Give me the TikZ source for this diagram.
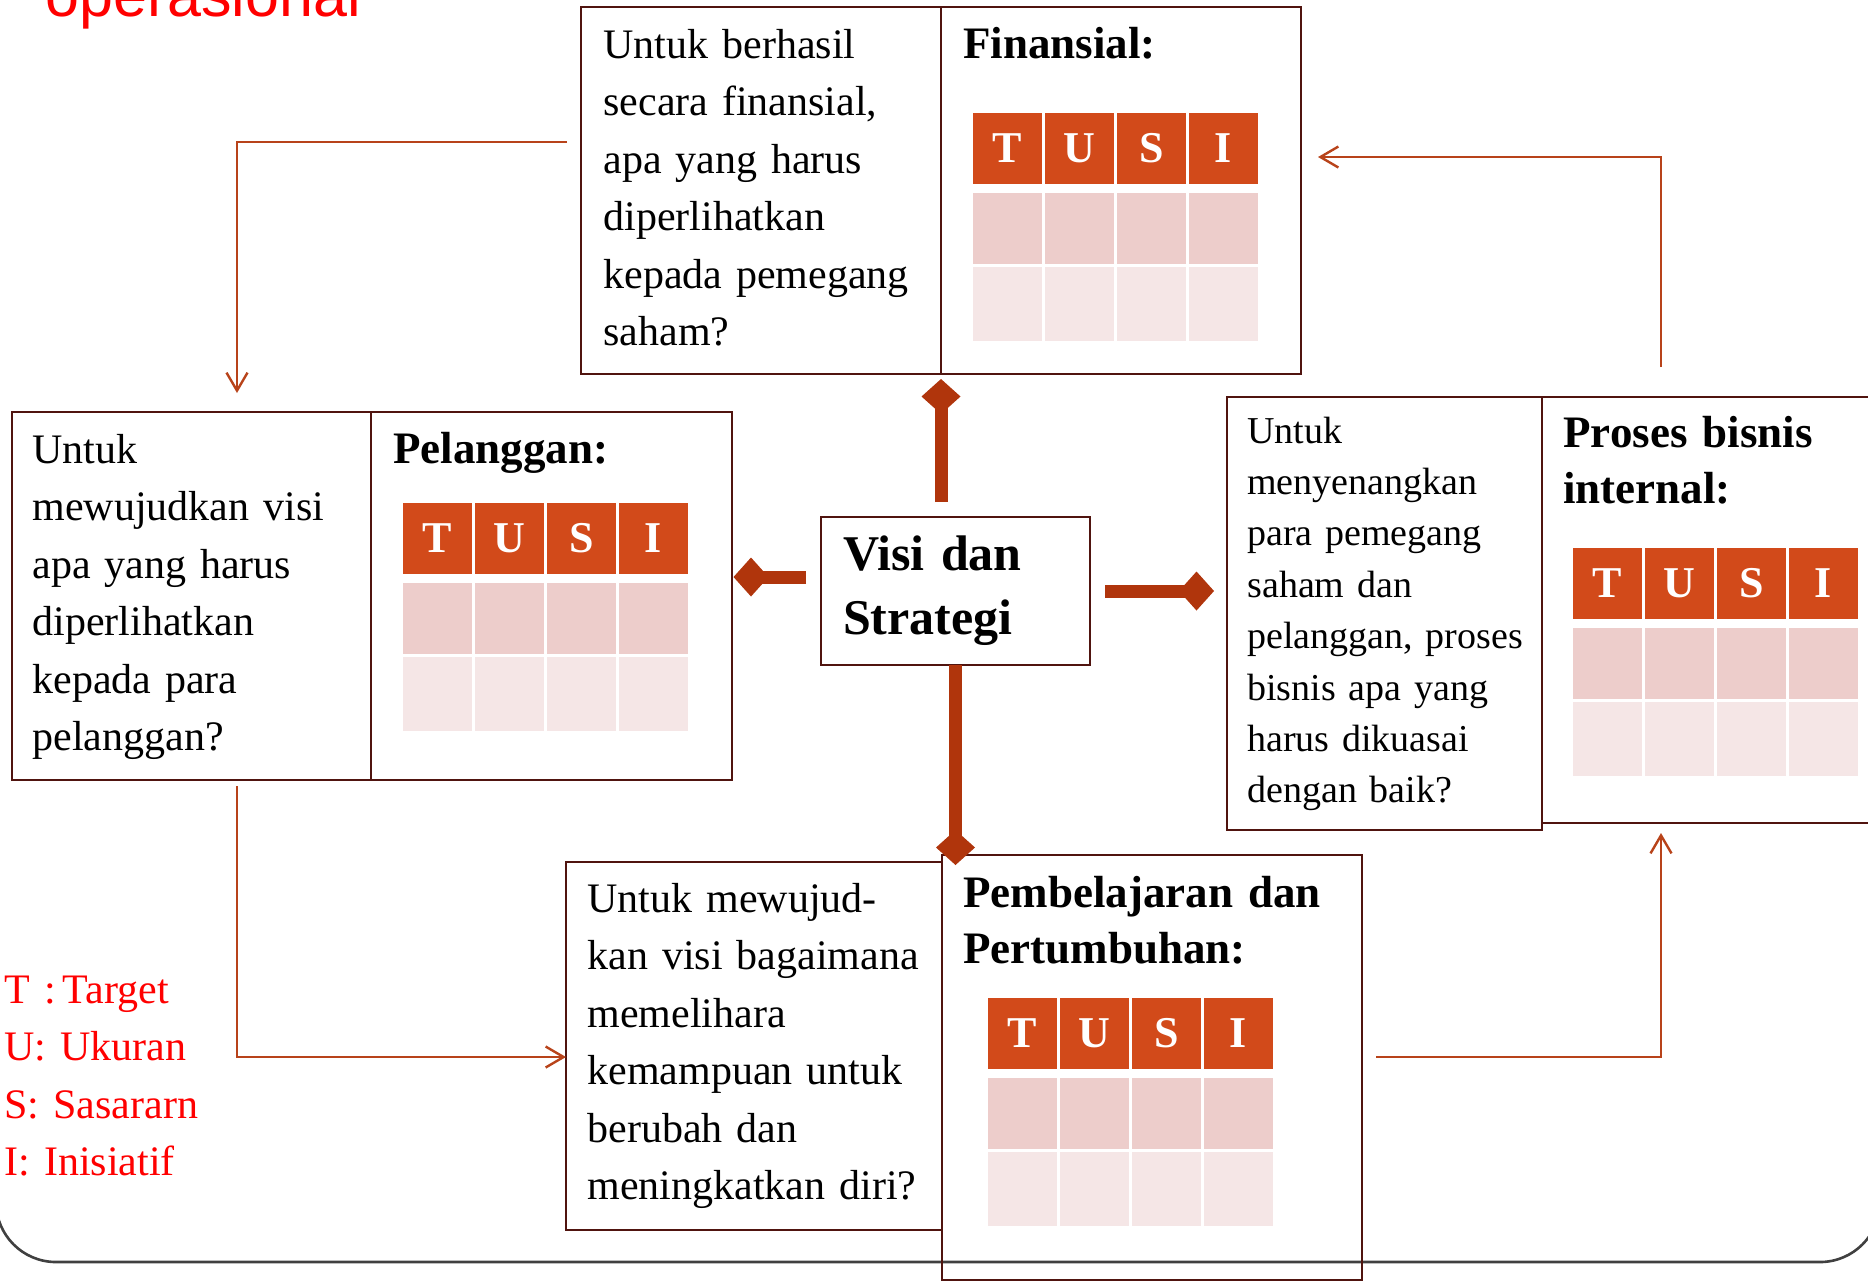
\documentclass[tikz,border=0pt]{standalone}
\usepackage{fontspec}
\setmainfont{Liberation Serif}
\newfontfamily\arialfont{Liberation Sans}
\usetikzlibrary{arrows.meta}

\definecolor{batas}{HTML}{50140F}
\definecolor{merahbata}{HTML}{B0350C}
\definecolor{jingga}{HTML}{B8431A}
\definecolor{oranye}{HTML}{D24A1A}
\definecolor{pinktua}{HTML}{EDCDCB}
\definecolor{pinkmuda}{HTML}{F5E6E6}

\tikzset{
  kotak/.style={draw=batas, line width=1pt, inner sep=0pt, outer sep=0pt, anchor=north west},
  tanya/.style={text width=185pt, align=left, inner sep=0pt, anchor=base west, font=\fontsize{21}{28.75}\selectfont},
  judul/.style={text width=200pt, align=left, inner sep=0pt, anchor=base west, font=\bfseries\fontsize{22.5}{28}\selectfont},
  kepala/.style={fill=oranye, text=white, font=\bfseries\fontsize{22}{26}\selectfont, minimum width=34.5pt, minimum height=35.5pt, inner sep=0pt, outer sep=0pt, anchor=north west},
  baris1/.style={fill=pinktua, minimum width=34.5pt, minimum height=35.5pt, inner sep=0pt, outer sep=0pt, anchor=north west},
  baris2/.style={fill=pinkmuda, minimum width=34.5pt, minimum height=37pt, inner sep=0pt, outer sep=0pt, anchor=north west},
  penghubung/.style={draw=merahbata, line width=6.5pt, -{Diamond[length=17.5pt, width=19.5pt, line width=0pt]}},
  panah/.style={draw=jingga, line width=1.2pt, -{Straight Barb[length=9pt, width=10.5pt]}},
  bingkai/.style={draw=black!75, line width=1.3pt, rounded corners=30pt}
}

% tabel T U S I: x kiri, y atas, nama
\newcommand{\tabelTUSI}[3]{%
  \foreach \h [count=\i from 0] in {T,U,S,I} {
    \node[kepala] (#3-\h) at ({#1+72*\i},#2) {\h};
    \node[baris1] (#3-\h1) at ({#1+72*\i},{#2+80}) {};
    \node[baris2] (#3-\h2) at ({#1+72*\i},{#2+154}) {};
  }%
}

\begin{document}
\begin{tikzpicture}[x=0.5pt, y=-0.5pt]
  \useasboundingbox (0,0) rectangle (1868,1282);
  \clip (0,0) rectangle (1868,1282);
  \draw[bingkai] (-4,-100) -- (-4,1262) -- (1880,1262) -- (1880,-100);

  \node[anchor=base west, inner sep=0pt, text=red, font=\arialfont\fontsize{30.5}{36}\selectfont] (atas) at (45,16) {operasional};

  % finansial
  \node[kotak, minimum width=180pt, minimum height=183.5pt] (fintanya) at (581,7) {};
  \node[kotak, minimum width=180pt, minimum height=183.5pt] (fin) at (941,7) {};
  \node[tanya] (fin-q) at (603,58) {Untuk berhasil\\secara finansial,\\apa yang harus\\diperlihatkan\\kepada pemegang\\saham?};
  \node[judul] (fin-j) at (963,58) {Finansial:};
  \tabelTUSI{973}{113}{fin}

  % pelanggan
  \node[kotak, minimum width=179.5pt, minimum height=184pt] (peltanya) at (12,412) {};
  \node[kotak, minimum width=180.25pt, minimum height=184pt] (pel) at (371,412) {};
  \node[tanya] (pel-q) at (32,463) {Untuk\\mewujudkan visi\\apa yang harus\\diperlihatkan\\kepada para\\pelanggan?};
  \node[judul] (pel-j) at (393,463) {Pelanggan:};
  \tabelTUSI{403}{503}{pel}

  % proses bisnis internal
  \node[kotak, minimum width=157.5pt, minimum height=216.5pt] (prosestanya) at (1227,397) {};
  \node[kotak, minimum width=180pt, minimum height=213pt] (proses) at (1542,397) {};
  \node[tanya, font=\fontsize{19}{25.7}\selectfont] (proses-q) at (1247,443) {Untuk\\menyenangkan\\para pemegang\\saham dan\\pelanggan, proses\\bisnis apa yang\\harus dikuasai\\dengan baik?};
  \node[judul] (proses-j) at (1563,447) {Proses bisnis\\internal:};
  \tabelTUSI{1573}{548}{proses}

  % pembelajaran dan pertumbuhan
  \node[kotak, minimum width=188pt, minimum height=184pt] (belajartanya) at (566,862) {};
  \node[kotak, minimum width=210pt, minimum height=212.5pt] (belajar) at (942,855) {};
  \node[tanya] (belajar-q) at (587,912) {Untuk mewujud-\\kan visi bagaimana\\memelihara\\kemampuan untuk\\berubah dan\\meningkatkan diri?};
  \node[judul] (belajar-j) at (963,907) {Pembelajaran dan\\Pertumbuhan:};
  \tabelTUSI{988}{998}{belajar}

  % visi
  \node[kotak, text width=112.5pt, inner xsep=11pt, minimum height=74pt, align=left, font=\bfseries\fontsize{25}{32}\selectfont] (visi) at (821,517) {Visi dan\\Strategi};

  \node[tanya, text=red] (legenda) at (4,1003) {T :\,Target\\U: Ukuran\\S: Sasararn\\I: Inisiatif};

  % siklus panah tipis
  \coordinate (f1) at (567,142);
  \coordinate (f2) at (237,393);
  \coordinate (p1) at (237,786);
  \coordinate (p2) at (566,1057);
  \coordinate (b1) at (1376,1057);
  \coordinate (b2) at (1661,833);
  \coordinate (r1) at (1661,367);
  \coordinate (r2) at (1318,157);
  \draw[panah] (f1) -| (f2);
  \draw[panah] (p1) |- (p2);
  \draw[panah] (b1) -| (b2);
  \draw[panah] (r1) |- (r2);

  % penghubung dari visi
  \coordinate (kiri) at ([yshift=7pt]visi.west);
  \draw[penghubung, shorten <=7.5pt, shorten >=2.5pt] (visi.north -| fintanya.east) -- (fintanya.south east);
  \draw[penghubung, shorten <=7.5pt, shorten >=1pt] (kiri) -- (kiri -| pel.east);
  \draw[penghubung, shorten <=7.5pt, shorten >=6.5pt] (visi.east) -- (visi.east -| prosestanya.west);
  \draw[penghubung, shorten >=-5pt] (visi.south) -- (visi.south |- belajar.north);
\end{tikzpicture}
\end{document}
